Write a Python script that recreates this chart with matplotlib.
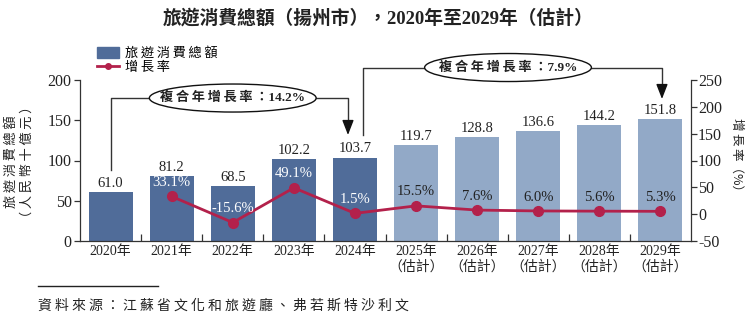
import matplotlib
matplotlib.use("Agg")
import matplotlib.pyplot as plt
from matplotlib.patches import Ellipse, Patch
from matplotlib.lines import Line2D

plt.rcParams["axes.unicode_minus"] = False

years = ["2020年", "2021年", "2022年", "2023年", "2024年",
         "2025年\n（估計）", "2026年\n（估計）", "2027年\n（估計）", "2028年\n（估計）", "2029年\n（估計）"]
spending = [61.0, 81.2, 68.5, 102.2, 103.7, 119.7, 128.8, 136.6, 144.2, 151.8]
growth = [None, 33.1, -15.6, 49.1, 1.5, 15.5, 7.6, 6.0, 5.6, 5.3]
cagr_hist = "14.2%"
cagr_fore = "7.9%"

DARK = "#506C99"
LIGHT = "#92A9C7"
RED = "#B3214B"
TXT = "#222222"
FAM = ["Liberation Serif", "Noto Sans CJK TC", "DejaVu Sans"]
CJK = ["Noto Sans CJK TC", "DejaVu Sans"]
TS = "\u2009"

def spaced(s, sep=TS):
    return sep.join(s)

fig = plt.figure(figsize=(7.56, 3.24), dpi=100)
ax = fig.add_axes([80/756, 83/324, 611/756, 161/324])
ax2 = ax.twinx()

x = list(range(len(years)))
colors = [DARK]*5 + [LIGHT]*5
ax.bar(x, spending, width=0.72, color=colors, zorder=2)
for i, v in enumerate(spending):
    ax.annotate(f"{v:.1f}", (i, v), xytext=(0, 1.5), textcoords="offset points",
                ha="center", va="bottom", fontsize=10.5, family=FAM, color=TXT)

ax.set_xlim(-0.5, 9.5)
ax.set_ylim(0, 200)
ax.set_yticks([0, 50, 100, 150, 200])
ax.set_xticks(x)
ax.set_xticklabels(years, fontsize=10, family=FAM, color=TXT, linespacing=1.2)
ax.tick_params(axis="x", length=0, pad=3)
ax.set_xticks([i + 0.5 for i in range(9)], minor=True)
ax.tick_params(axis="x", which="minor", direction="in", length=5, width=0.9, color="#333333")
ax.tick_params(axis="y", direction="out", length=4, width=0.9, labelsize=11.5, colors="#333333", pad=2)
for lbl in ax.get_yticklabels():
    lbl.set_family(FAM)
    lbl.set_color(TXT)

xs = [i for i, g in enumerate(growth) if g is not None]
gs = [g for g in growth if g is not None]
ax2.plot(xs, gs, color=RED, lw=2, marker="o", markersize=7, zorder=3)
ax2.set_ylim(-50, 250)
ax2.set_yticks([-50, 0, 50, 100, 150, 200, 250])
ax2.tick_params(axis="y", direction="out", length=4, width=0.9, labelsize=11.5, colors="#333333", pad=1)
for lbl in ax2.get_yticklabels():
    lbl.set_family(FAM)
    lbl.set_color(TXT)
for i, g in zip(xs, gs):
    c = "white" if i <= 4 else TXT
    ax2.annotate(f"{g:.1f}%", (i, g), xytext=(0, 10), textcoords="offset points",
                 ha="center", va="center", fontsize=10.5, family=FAM, color=c, zorder=4)

for a in (ax, ax2):
    a.spines["top"].set_visible(False)
    for s in a.spines.values():
        s.set_linewidth(0.9)
        s.set_color("#333333")
ax.spines["right"].set_visible(False)
ax2.spines["left"].set_visible(False)
ax2.spines["bottom"].set_visible(False)

# axis titles
fig.text(19/756, 1 - 162/324, spaced("旅遊消費總額") + "\n" + spaced("（人民幣十億元）"), rotation=90,
         ha="center", va="center", fontsize=9.5, family=CJK, color=TXT, linespacing=1.25)
fig.text(737/756, 1 - 158/324, spaced("增長率") + "（%）", rotation=270, ha="center", va="center",
         fontsize=9, family=CJK, color=TXT)

# title
fig.text(0.5, 1 - 18/324, "旅遊消費總額（揚州市），2020年至2029年（估計）", ha="center", va="center",
         fontsize=13.5, fontweight="bold", family=["Liberation Serif", "Noto Sans CJK TC"], color=TXT)

# legend
handles = [Patch(color=DARK), Line2D([], [], color=RED, lw=2, marker="o", markersize=4)]
fig.legend(handles, [spaced("旅遊消費總額"), spaced("增長率")], loc="upper left",
           bbox_to_anchor=(97/756, 1 - 47/324),
           frameon=False, prop={"family": CJK, "size": 9.5}, handlelength=1.7, handleheight=0.9,
           handletextpad=0.4, labelspacing=0.1, borderpad=0, borderaxespad=0)

# CAGR annotations
LC = "#333333"
def bracket(x0, y0, yh, x1, y1, ex, ew, eh, label):
    ax.plot([x0, x0, x1, x1], [y0, yh, yh, y1 + 14], color=LC, lw=1, clip_on=False, zorder=5)
    ax.annotate("", xy=(x1, y1), xytext=(x1, y1 + 15),
                arrowprops=dict(arrowstyle="-|>,head_length=0.9,head_width=0.35", color="#111111", lw=1,
                                shrinkA=0, shrinkB=0),
                annotation_clip=False, zorder=6)
    e = Ellipse((ex, yh), ew, eh, facecolor="white", edgecolor="#111111", lw=1, clip_on=False, zorder=7)
    ax.add_patch(e)
    ax.text(ex, yh, label, ha="center", va="center", fontsize=9.5, fontweight="bold",
            family=["Liberation Serif", "Noto Sans CJK TC", "DejaVu Sans"], color=TXT, zorder=8, clip_on=False)

bracket(0.0, 88, 177.6, 3.886, 131.7, 2.0, 2.73, 34.8, spaced("複合年增長率：") + cagr_hist)
bracket(4.13, 131.7, 215.5, 9.025, 176.4, 6.505, 2.73, 34.8, spaced("複合年增長率：") + cagr_fore)

# source
fig.add_artist(Line2D([38/756, 158/756], [1 - 286/324, 1 - 286/324], color="#222222", lw=1))
fig.text(38/756, 1 - 306/324, " ".join("資料來源：江蘇省文化和旅遊廳、弗若斯特沙利文"), ha="left", va="center",
         fontsize=10, family=CJK, color=TXT)

fig.savefig("out.png", dpi=100)
